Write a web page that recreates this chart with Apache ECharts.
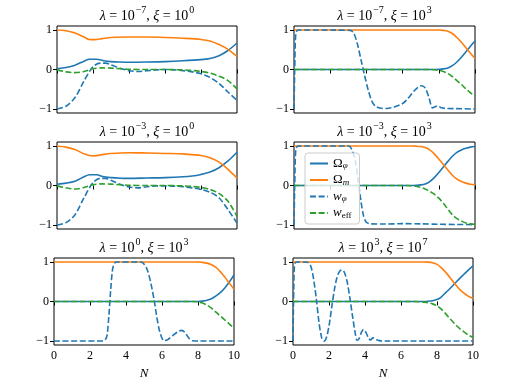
<!DOCTYPE html>
<html>
<head>
<meta charset="utf-8">
<title>Dark energy panels</title>
<script src="https://cdn.jsdelivr.net/npm/echarts@6/dist/echarts.min.js"></script>
<style>
  html, body { margin: 0; padding: 0; background: #fff; }
</style>
</head>
<body>
<div id="main" style="width:512px;height:384px;"></div>
<script type="text/javascript">
// panel titles: lambda = 10^a, xi = 10^b
var lamExp = ['−7', '−7', '−3', '−3', '0', '3'];
var xiExp = ['0', '3', '0', '3', '3', '7'];
var xTicks = [0, 2, 4, 6, 8, 10];
var yTicks = [-1, 0, 1];
var seriesNames = ['Ωφ', 'Ωm', 'wφ', 'weff'];

// panel 1: lambda=1e-7, xi=1e0
var p1OmegaPhi = [[0,0.02],[0.5,0.05],[1,0.11],[1.5,0.21],[1.8,0.26],[2.2,0.26],[2.6,0.22],[3,0.2],[3.5,0.19],[4,0.185],[5,0.19],[6,0.2],[7,0.22],[8,0.25],[8.5,0.28],[9,0.35],[9.5,0.48],[10,0.67]];
var p1OmegaM = [[0,1],[0.5,0.98],[1,0.92],[1.5,0.82],[1.8,0.76],[2.1,0.755],[2.5,0.78],[3,0.81],[4,0.82],[5,0.82],[6,0.81],[7,0.79],[8,0.76],[8.5,0.72],[9,0.63],[9.5,0.51],[10,0.33]];
var p1WPhi = [[0,-1],[0.5,-0.93],[1,-0.71],[1.5,-0.29],[2,0.07],[2.4,0.16],[2.7,0.16],[3,0.12],[3.5,0.03],[4,-0.03],[4.5,-0.05],[5,-0.03],[5.5,-0.01],[6,0],[6.5,-0.01],[7,-0.03],[7.5,-0.06],[8,-0.11],[8.5,-0.2],[9,-0.35],[9.5,-0.57],[10,-0.78]];
var p1WEff = [[0,-0.01],[0.5,-0.06],[1,-0.08],[1.5,-0.05],[2,0.02],[2.5,0.04],[3,0.035],[3.5,0.02],[4,0.005],[5,0],[6,0],[7,-0.01],[7.5,-0.025],[8,-0.05],[8.5,-0.09],[9,-0.17],[9.5,-0.28],[10,-0.49]];

// panel 2: lambda=1e-7, xi=1e3
var p2OmegaPhi = [[0,0],[7.75,0],[8,0.005],[8.25,0.015],[8.5,0.04],[8.75,0.1],[9,0.19],[9.25,0.31],[9.5,0.45],[9.75,0.59],[10,0.72]];
var p2OmegaM = [[0,1],[8,1],[8.25,0.99],[8.5,0.97],[8.75,0.91],[9,0.81],[9.25,0.69],[9.5,0.55],[9.75,0.41],[10,0.28]];
var p2WPhi = [[0,-1],[0.04,0],[0.1,0.92],[0.2,0.99],[0.4,1],[3.1,0.99],[3.3,0.92],[3.5,0.65],[3.7,0.25],[3.9,-0.15],[4.1,-0.52],[4.3,-0.8],[4.5,-0.93],[4.8,-0.98],[5.1,-0.985],[5.5,-0.955],[6,-0.86],[6.3,-0.73],[6.6,-0.56],[6.85,-0.45],[7.05,-0.41],[7.25,-0.47],[7.45,-0.7],[7.65,-0.97],[7.8,-0.94],[7.95,-0.92],[8.1,-0.96],[8.4,-0.985],[9,-0.99],[10,-1]];
var p2WEff = [[0,0],[7.5,0],[7.75,-0.005],[8,-0.02],[8.25,-0.05],[8.5,-0.1],[8.75,-0.18],[9,-0.28],[9.25,-0.38],[9.5,-0.49],[9.75,-0.59],[10,-0.68]];

// panel 3: lambda=1e-3, xi=1e0
var p3OmegaPhi = [[0,0.03],[0.5,0.06],[1,0.11],[1.5,0.22],[1.8,0.27],[2.2,0.27],[2.6,0.22],[3,0.2],[3.5,0.185],[4,0.18],[5,0.19],[6,0.2],[7,0.22],[7.5,0.24],[8,0.28],[8.5,0.34],[9,0.45],[9.5,0.62],[10,0.84]];
var p3OmegaM = [[0,1],[0.5,0.97],[1,0.91],[1.5,0.8],[1.8,0.76],[2.1,0.75],[2.5,0.78],[3,0.81],[4,0.83],[5,0.82],[6,0.81],[7,0.8],[7.5,0.78],[8,0.76],[8.5,0.7],[9,0.59],[9.5,0.41],[10,0.19]];
var p3WPhi = [[0,-1],[0.5,-0.94],[1,-0.74],[1.5,-0.31],[2,0.07],[2.4,0.18],[2.7,0.18],[3,0.13],[3.5,0.03],[4,-0.04],[4.5,-0.06],[5,-0.03],[5.5,-0.01],[6,-0.01],[6.5,-0.015],[7,-0.03],[7.5,-0.06],[8,-0.1],[8.5,-0.17],[9,-0.31],[9.5,-0.61],[10,-0.95]];
var p3WEff = [[0,-0.01],[0.5,-0.06],[1,-0.09],[1.5,-0.05],[2,0.02],[2.5,0.04],[3,0.035],[3.5,0.02],[4,0.005],[5,0],[6,0],[7,-0.01],[7.5,-0.025],[8,-0.05],[8.5,-0.1],[9,-0.2],[9.5,-0.4],[10,-0.78]];

// panel 4: lambda=1e-3, xi=1e3
var p4OmegaPhi = [[0,0],[6.5,0],[6.75,0.005],[7,0.015],[7.25,0.04],[7.5,0.1],[7.75,0.2],[8,0.33],[8.25,0.47],[8.5,0.61],[8.75,0.74],[9,0.84],[9.25,0.9],[9.5,0.94],[9.75,0.97],[10,0.985]];
var p4OmegaM = [[0,1],[6.5,1],[6.75,0.995],[7,0.985],[7.25,0.96],[7.5,0.9],[7.75,0.8],[8,0.67],[8.25,0.53],[8.5,0.39],[8.75,0.26],[9,0.16],[9.25,0.1],[9.5,0.06],[9.75,0.03],[10,0.015]];
var p4WPhi = [[0,-1],[0.04,0],[0.1,0.92],[0.2,0.99],[0.4,1],[2.95,1],[3.1,0.98],[3.25,0.85],[3.4,0.6],[3.55,0.1],[3.7,-0.4],[3.85,-0.78],[4,-0.93],[4.25,-0.97],[5,-0.975],[6,-0.965],[7,-0.97],[8,-0.98],[9,-0.985],[10,-0.99]];
var p4WEff = [[0,0],[6,0],[6.5,-0.005],[6.75,-0.02],[7,-0.05],[7.25,-0.09],[7.5,-0.15],[7.75,-0.22],[8,-0.32],[8.25,-0.45],[8.5,-0.6],[8.75,-0.74],[9,-0.84],[9.25,-0.9],[9.5,-0.95],[9.75,-0.97],[10,-0.98]];

// panel 5: lambda=1e0, xi=1e3
var p5OmegaPhi = [[0,0],[8,0],[8.25,0.01],[8.5,0.03],[8.75,0.07],[9,0.14],[9.25,0.23],[9.5,0.35],[9.75,0.5],[10,0.67]];
var p5OmegaM = [[0,1],[8,1],[8.25,0.99],[8.5,0.97],[8.75,0.93],[9,0.86],[9.25,0.75],[9.5,0.61],[9.75,0.46],[10,0.31]];
var p5WPhi = [[0,-1],[2.75,-1],[2.85,-0.97],[2.95,-0.85],[3.05,-0.35],[3.15,0.3],[3.25,0.8],[3.35,0.96],[3.5,1],[4.8,1],[5,0.95],[5.2,0.78],[5.4,0.42],[5.57,0.02],[5.7,-0.36],[5.85,-0.72],[6,-0.93],[6.1,-0.99],[6.3,-0.97],[6.6,-0.86],[6.9,-0.76],[7.1,-0.73],[7.3,-0.8],[7.5,-0.93],[7.7,-0.99],[8,-1],[10,-1]];
var p5WEff = [[0,0],[7.75,0],[8,-0.01],[8.25,-0.04],[8.5,-0.09],[8.75,-0.17],[9,-0.27],[9.25,-0.37],[9.5,-0.47],[9.75,-0.57],[10,-0.68]];

// panel 6: lambda=1e3, xi=1e7
var p6OmegaPhi = [[0,0],[7.25,0],[7.5,0.005],[7.75,0.02],[8,0.05],[8.25,0.12],[8.5,0.23],[8.75,0.34],[9,0.46],[9.25,0.58],[9.5,0.69],[9.75,0.8],[10,0.9]];
var p6OmegaM = [[0,1],[7.25,1],[7.5,0.995],[7.75,0.98],[8,0.94],[8.25,0.85],[8.5,0.73],[8.75,0.59],[9,0.44],[9.25,0.31],[9.5,0.21],[9.75,0.13],[10,0.08]];
var p6WPhi = [[0,-1],[0.03,0],[0.08,0.92],[0.15,0.99],[0.3,1],[0.7,1],[0.85,0.98],[1,0.88],[1.15,0.55],[1.3,0.05],[1.45,-0.55],[1.6,-0.93],[1.72,-1],[1.85,-0.92],[2,-0.62],[2.15,-0.15],[2.3,0.3],[2.45,0.62],[2.6,0.77],[2.72,0.8],[2.85,0.74],[3,0.52],[3.15,0.12],[3.3,-0.35],[3.45,-0.78],[3.56,-0.98],[3.68,-0.93],[3.8,-0.78],[3.92,-0.71],[4.05,-0.78],[4.2,-0.93],[4.3,-0.97],[4.45,-0.92],[4.6,-0.96],[4.8,-0.99],[5.1,-1],[10,-1]];
var p6WEff = [[0,0],[6.75,0],[7,-0.005],[7.25,-0.015],[7.5,-0.03],[7.75,-0.06],[8,-0.11],[8.25,-0.2],[8.5,-0.32],[8.75,-0.45],[9,-0.57],[9.25,-0.68],[9.5,-0.77],[9.75,-0.85],[10,-0.91]];

var panels = [
    [p1OmegaPhi, p1OmegaM, p1WPhi, p1WEff],
    [p2OmegaPhi, p2OmegaM, p2WPhi, p2WEff],
    [p3OmegaPhi, p3OmegaM, p3WPhi, p3WEff],
    [p4OmegaPhi, p4OmegaM, p4WPhi, p4WEff],
    [p5OmegaPhi, p5OmegaM, p5WPhi, p5WEff],
    [p6OmegaPhi, p6OmegaM, p6WPhi, p6WEff]
];

var myChart = echarts.init(document.getElementById('main'), null, {renderer: 'canvas'});

var FONT = 'Liberation Serif';
var colors = ['#1f77b4', '#ff7f0e', '#1f77b4', '#2ca02c'];
var dash = [6, 2.6];

// plot boxes (px)
var boxes = [
    {left: 57, top: 26, width: 180, height: 87},
    {left: 294, top: 26, width: 181, height: 87},
    {left: 57, top: 142, width: 180, height: 87},
    {left: 294, top: 142, width: 181, height: 87},
    {left: 54, top: 258, width: 180, height: 87},
    {left: 293, top: 258, width: 180, height: 87}
];

var grids = [], xAxes = [], yAxes = [], titles = [], series = [];

boxes.forEach(function (b, i) {
    var bottomRow = i >= 4;
    grids.push({
        left: b.left, top: b.top, width: b.width, height: b.height,
        show: true, borderColor: '#000', borderWidth: 1, backgroundColor: 'transparent'
    });
    xAxes.push({
        type: 'value', gridIndex: i, min: 0, max: 10, interval: 2,
        axisLine: {show: false},
        axisTick: {show: true, length: 4, lineStyle: {color: '#000', width: 1}},
        splitLine: {show: false},
        axisLabel: {show: bottomRow, color: '#000', fontFamily: FONT, fontSize: 12, margin: 5},
        name: bottomRow ? 'N' : '',
        nameLocation: 'middle', nameGap: 22,
        nameTextStyle: {color: '#000', fontFamily: FONT, fontSize: 13, fontStyle: 'italic'}
    });
    yAxes.push({
        type: 'value', gridIndex: i, min: -1.1, max: 1.1,
        axisLine: {show: false},
        axisTick: {show: true, length: 4, customValues: yTicks, lineStyle: {color: '#000', width: 1}},
        splitLine: {show: false},
        axisLabel: {
            show: true, customValues: yTicks, color: '#000', fontFamily: FONT, fontSize: 12, margin: 5,
            formatter: function (v) { return v < 0 ? '−' + Math.abs(v) : String(v); }
        }
    });
    titles.push({
        text: '{i|λ}{t| = 10}{s|' + lamExp[i] + '}{t|, }{i|ξ}{t| = 10}{s|' + xiExp[i] + '}',
        left: b.left + b.width / 2, top: b.top - 21, textAlign: 'center', padding: 0,
        textStyle: {
            fontWeight: 'normal',
            rich: {
                t: {fontFamily: FONT, fontSize: 14, fontWeight: 'normal', color: '#000', lineHeight: 18, verticalAlign: 'bottom'},
                i: {fontFamily: FONT, fontSize: 14, fontWeight: 'normal', color: '#000', fontStyle: 'italic', lineHeight: 18, verticalAlign: 'bottom'},
                s: {fontFamily: FONT, fontSize: 10, fontWeight: 'normal', color: '#000', lineHeight: 15, verticalAlign: 'top', padding: [0, 0, 0, 1]}
            }
        }
    });
    panels[i].forEach(function (d, k) {
        series.push({
            name: seriesNames[k], type: 'line', xAxisIndex: i, yAxisIndex: i,
            data: d, showSymbol: false, symbol: 'none', smooth: 0.3,
            lineStyle: {color: colors[k], width: 1.6, type: k >= 2 ? dash : 'solid'},
            itemStyle: {color: colors[k]},
            z: 2 + k * 0.1,
            animation: false
        });
    });
});

var legendRich = {
    m: {fontFamily: FONT, fontSize: 13, color: '#000', lineHeight: 14},
    mi: {fontFamily: FONT, fontSize: 13, color: '#000', fontStyle: 'italic', lineHeight: 14},
    sub: {fontFamily: FONT, fontSize: 9, color: '#000', fontStyle: 'italic', verticalAlign: 'bottom', lineHeight: 10},
    subr: {fontFamily: FONT, fontSize: 9, color: '#000', verticalAlign: 'bottom', lineHeight: 10}
};
var legendText = {
    'Ωφ': '{m|Ω}{sub|φ}',
    'Ωm': '{m|Ω}{sub|m}',
    'wφ': '{mi|w}{sub|φ}',
    'weff': '{mi|w}{subr|eff}'
};

var option = {
    backgroundColor: '#fff',
    animation: false,
    title: titles,
    grid: grids,
    xAxis: xAxes,
    yAxis: yAxes,
    legend: {
        data: seriesNames,
        orient: 'vertical',
        left: 305, top: 153,
        itemWidth: 18, itemHeight: 10, itemGap: 3,
        padding: [4, 8, 4, 4],
        backgroundColor: 'rgba(255,255,255,0.8)',
        borderColor: '#cccccc', borderWidth: 1, borderRadius: 3,
        z: 10,
        itemStyle: {opacity: 0},
        formatter: function (name) { return legendText[name]; },
        textStyle: {rich: legendRich}
    },
    series: series
};
myChart.setOption(option);
</script>
</body>
</html>
